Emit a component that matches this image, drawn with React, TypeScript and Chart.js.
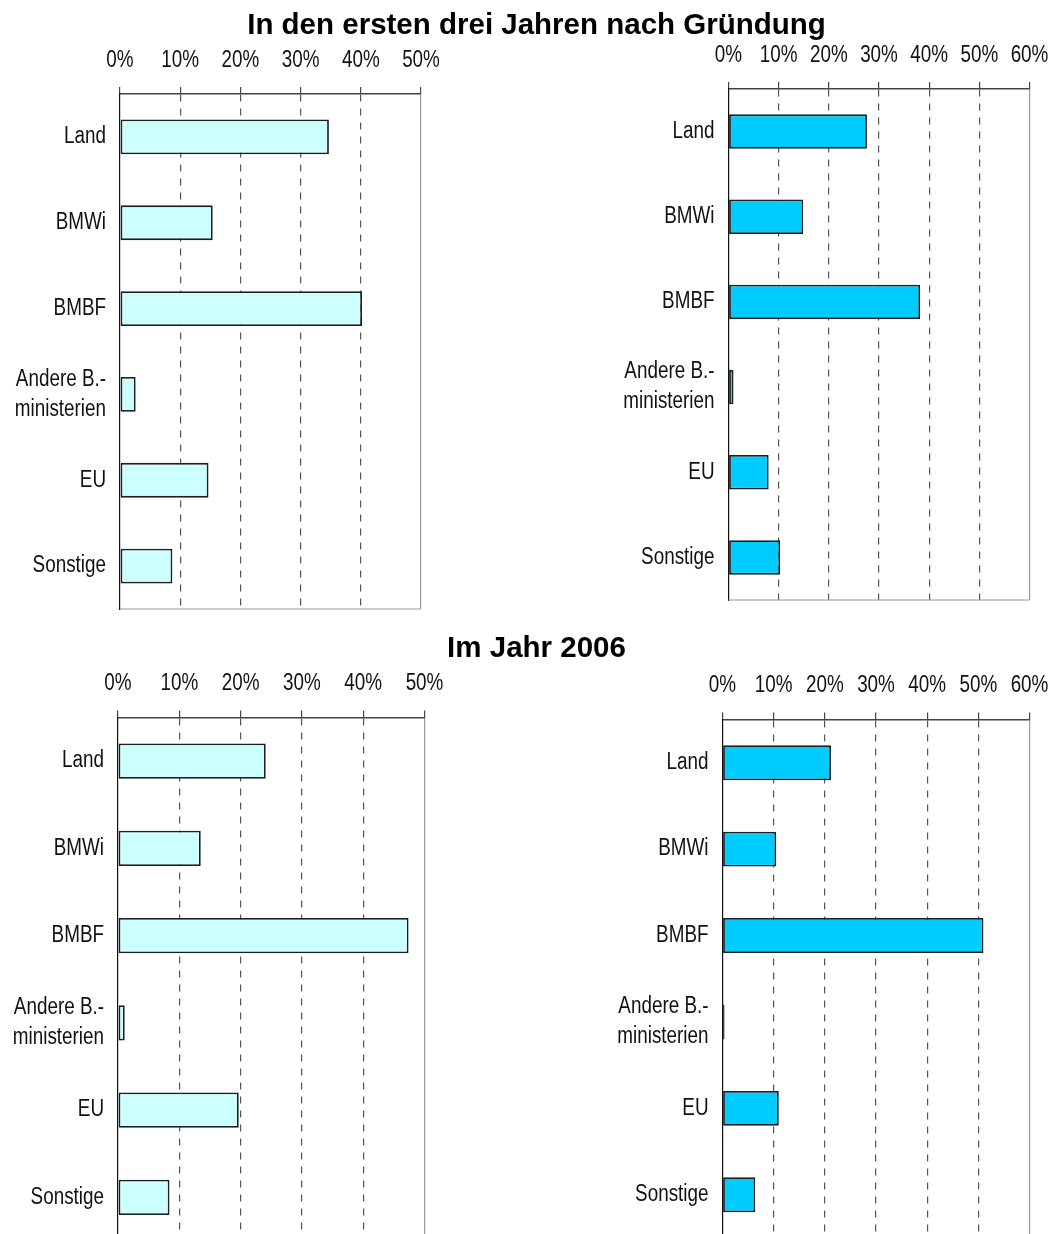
import React, { useEffect, useRef } from 'react';
import { Chart, registerables } from 'chart.js';

Chart.register(...registerables);

// ---- data ----
const categories: (string | string[])[] = ['Land', 'BMWi', 'BMBF', ['Andere B.-', 'ministerien'], 'EU', 'Sonstige'];
const titleTop = 'In den ersten drei Jahren nach Gründung';
const titleBottom = 'Im Jahr 2006';
const maxLeft = 50;
const maxRight = 60;
const tickStep = 10;
const firstYearsLeft = [34.7, 15.4, 40.2, 2.6, 14.7, 8.7];
const firstYearsRight = [27.6, 14.9, 38.2, 1.0, 8.0, 10.3];
const year2006Left = [24.1, 13.5, 47.4, 1.1, 19.7, 8.4];
const year2006Right = [21.2, 10.5, 51.0, 0.4, 11.0, 6.4];

const colorLight = '#CCFFFF';
const colorBlue = '#00CCFF';
const FONT = "'Liberation Sans', Arial, sans-serif";
const TITLE_FONT = "'Liberation Sans', Arial, sans-serif";
const NARROW = 0.82; // Arial-Narrow-like horizontal condensing

type Box = { left: number; top: number; width: number; height: number };
type Area = { left: number; top: number; right: number; bottom: number };

const frameLines = {
  id: 'frameLines',
  beforeDatasetsDraw(chart: any) {
    const { ctx, chartArea } = chart;
    ctx.save();
    ctx.strokeStyle = '#999';
    ctx.lineWidth = 1;
    ctx.beginPath();
    ctx.moveTo(chartArea.left, chartArea.bottom);
    ctx.lineTo(chartArea.right, chartArea.bottom);
    ctx.stroke();
    ctx.restore();
  },
};

function condense(ctx: any) {
  if (ctx.__condensed) return;
  const orig = ctx.fillText;
  ctx.fillText = function (text: string, x: number, y: number, maxWidth?: number) {
    const w = this.measureText(text).width * NARROW;
    const mw = maxWidth !== undefined ? Math.min(maxWidth, w) : w;
    orig.call(this, text, x, y, Math.max(mw, 0.01));
  };
  ctx.__condensed = true;
}

function Panel({ values, max, color, box, area }: { values: number[]; max: number; color: string; box: Box; area: Area }) {
  const ref = useRef<HTMLCanvasElement | null>(null);
  useEffect(() => {
    if (!ref.current) return;
    const c2d = ref.current.getContext('2d');
    if (c2d) condense(c2d);
    const yWidth = area.left - box.left;
    const xHeight = area.top - box.top;
    const padRight = box.left + box.width - area.right;
    const padBottom = box.top + box.height - area.bottom;
    const chart = new Chart(ref.current, {
      type: 'bar',
      data: {
        labels: categories as any,
        datasets: [
          {
            data: values,
            backgroundColor: color,
            borderColor: '#1e1e1e',
            borderWidth: 1.8,
            borderSkipped: false,
            barPercentage: 0.405,
            categoryPercentage: 1,
          },
        ],
      },
      options: {
        indexAxis: 'y',
        responsive: false,
        animation: false,
        layout: { padding: { left: 0, top: 0, right: padRight, bottom: padBottom } },
        plugins: { legend: { display: false }, tooltip: { enabled: false }, title: { display: false } },
        scales: {
          x: {
            type: 'linear',
            position: 'top',
            min: 0,
            max,
            ticks: {
              stepSize: tickStep,
              callback: (v: any) => v + '%',
              font: { family: FONT, size: 23 },
              color: '#111',
              padding: 13,
              maxRotation: 0,
              autoSkip: false,
            },
            grid: {
              color: (c: any) => (c.index === 0 ? 'transparent' : c.tick && c.tick.value === max ? '#999' : '#555'),
              lineWidth: 1.2,
              drawTicks: true,
              tickLength: 7,
              tickColor: '#444',
              tickWidth: 1.2,
              tickBorderDash: [],
            },
            border: {
              display: true,
              color: '#444',
              width: 1.5,
              dash: (c: any) => (c.tick && c.tick.value === max ? [] : [7, 7]),
            },
            afterFit: (s: any) => {
              s.height = xHeight;
              s.paddingLeft = 0;
              s.paddingRight = 0;
            },
          } as any,
          y: {
            type: 'category',
            grid: { display: false, drawTicks: false },
            border: { display: true, color: '#111', width: 1.2 },
            ticks: {
              font: { family: FONT, size: 23, lineHeight: 1.3 },
              color: '#111',
              padding: 14,
              autoSkip: false,
            },
            afterFit: (s: any) => {
              s.width = yWidth;
              s.paddingTop = 0;
              s.paddingBottom = 0;
            },
          } as any,
        },
      },
      plugins: [frameLines],
    });
    return () => chart.destroy();
  }, []);
  return (
    <canvas
      ref={ref}
      width={box.width}
      height={box.height}
      style={{ position: 'absolute', left: box.left, top: box.top, width: box.width, height: box.height }}
    />
  );
}

const titleStyle = (top: number): React.CSSProperties => ({
  position: 'absolute',
  left: 536.5,
  top,
  transform: 'translateX(-50%)',
  whiteSpace: 'nowrap',
  fontFamily: TITLE_FONT,
  fontWeight: 'bold',
  fontSize: 29.5,
  lineHeight: '29px',
  color: '#000',
  zIndex: 2,
});

export default function App() {
  return (
    <div
      style={{
        position: 'fixed',
        left: 0,
        top: 0,
        width: 1057,
        height: 1234,
        overflow: 'hidden',
        background: '#fff',
      }}
    >
      <div style={titleStyle(8.5)}>{titleTop}</div>
      <div style={titleStyle(632)}>{titleBottom}</div>
      <Panel
        values={firstYearsLeft}
        max={maxLeft}
        color={colorLight}
        box={{ left: 0, top: 30, width: 450, height: 590 }}
        area={{ left: 120, top: 94, right: 421, bottom: 609 }}
      />
      <Panel
        values={firstYearsRight}
        max={maxRight}
        color={colorBlue}
        box={{ left: 600, top: 30, width: 457, height: 590 }}
        area={{ left: 728.5, top: 89, right: 1029.5, bottom: 600 }}
      />
      <Panel
        values={year2006Left}
        max={maxLeft}
        color={colorLight}
        box={{ left: 0, top: 660, width: 450, height: 590 }}
        area={{ left: 118, top: 717.5, right: 424.5, bottom: 1241 }}
      />
      <Panel
        values={year2006Right}
        max={maxRight}
        color={colorBlue}
        box={{ left: 600, top: 660, width: 457, height: 590 }}
        area={{ left: 722.5, top: 719.5, right: 1029.5, bottom: 1238 }}
      />
    </div>
  );
}
